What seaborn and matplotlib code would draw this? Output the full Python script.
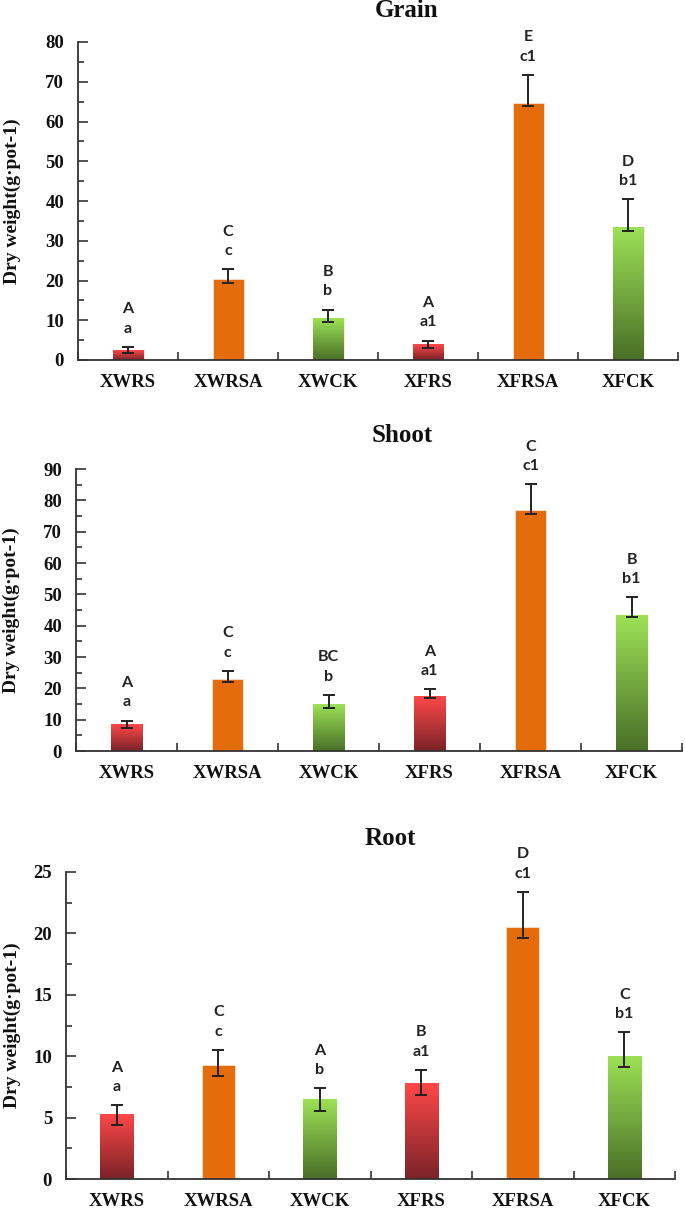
import numpy as np
import pandas as pd
import matplotlib
matplotlib.use('Agg')
from matplotlib import pyplot as plt
from matplotlib.colors import LinearSegmentedColormap
from matplotlib.ticker import MultipleLocator, FixedLocator
import seaborn as sns

treatments = ['XWRS', 'XWRSA', 'XWCK', 'XFRS', 'XFRSA', 'XFCK']
fill_kind = ['red', 'orange', 'green', 'red', 'orange', 'green']

grain_mean = [2.5, 20.5, 10.5, 4.0, 64.7, 33.4]
grain_err_lo = [0.7, 1.2, 0.9, 0.9, 0.8, 0.9]
grain_err_hi = [0.8, 2.3, 2.2, 0.9, 7.0, 7.0]
grain_upper = ['A', 'C', 'B', 'A', 'E', 'D']
grain_lower = ['a', 'c', 'b', 'a1', 'c1', 'b1']

shoot_mean = [8.6, 22.9, 14.9, 17.4, 76.9, 43.4]
shoot_err_lo = [1.4, 0.8, 1.3, 0.6, 1.3, 0.7]
shoot_err_hi = [1.1, 2.7, 3.0, 2.3, 8.2, 5.7]
shoot_upper = ['A', 'C', 'BC', 'A', 'C', 'B']
shoot_lower = ['a', 'c', 'b', 'a1', 'c1', 'b1']

root_mean = [5.3, 9.3, 6.5, 7.8, 20.5, 10.05]
root_err_lo = [0.9, 0.95, 1.0, 1.0, 0.9, 0.95]
root_err_hi = [0.7, 1.2, 0.9, 1.1, 2.9, 1.9]
root_upper = ['A', 'C', 'A', 'B', 'D', 'C']
root_lower = ['a', 'c', 'b', 'a1', 'c1', 'b1']

gradients = {'red': ('#7a2328', '#ff4848'), 'green': ('#4a6f27', '#9ce256')}
solid = {'red': '#e04040', 'orange': '#e46c0a', 'green': '#86c94a'}

sns.set_style('ticks')
plt.rcParams['font.family'] = ['Liberation Serif', 'DejaVu Serif']
plt.rcParams['font.weight'] = 'bold'

fig = plt.figure(figsize=(6.85, 12.11), dpi=100)
W, H = 685.0, 1211.0

panels = [
    # title, mean, lo, hi, upper, lower, ymax, major, (left, right, top, bottom px), bar width, title pos, ylabel x
    ('Grain', grain_mean, grain_err_lo, grain_err_hi, grain_upper, grain_lower, 80, 10,
     (78, 678, 42, 360), 0.31, (0.547, 1.10), -0.095),
    ('Shoot', shoot_mean, shoot_err_lo, shoot_err_hi, shoot_upper, shoot_lower, 90, 10,
     (76, 682, 469, 751), 0.31, (0.538, 1.12), -0.092),
    ('Root', root_mean, root_err_lo, root_err_hi, root_upper, root_lower, 25, 5,
     (66, 675, 872, 1179), 0.33, (0.532, 1.11), -0.074),
]


def paint_gradient(ax, bar, bottom_color, top_color):
    x0, y0 = bar.get_x(), bar.get_y()
    w, h = bar.get_width(), bar.get_height()
    cmap = LinearSegmentedColormap.from_list('grad', [bottom_color, top_color])
    grad = np.linspace(0, 1, 256).reshape(-1, 1)
    im = ax.imshow(grad, cmap=cmap, extent=[x0, x0 + w, y0, y0 + h], origin='lower',
                   aspect='auto', zorder=bar.get_zorder(), interpolation='bilinear')
    im.set_clip_path(bar)
    bar.set_facecolor('none')


for title, mean, lo, hi, upper, lower, ymax, major, box, bw, tpos, ylx in panels:
    left, right, top, bottom = box
    ax = fig.add_axes([left / W, 1 - bottom / H, (right - left) / W, (bottom - top) / H])
    df = pd.DataFrame({'treatment': treatments, 'value': mean, 'kind': fill_kind})
    palette = {t: solid[k] for t, k in zip(treatments, fill_kind)}
    sns.barplot(data=df, x='treatment', y='value', hue='treatment', palette=palette,
                width=bw, errorbar=None, legend=False, saturation=1, ax=ax)
    for bar in ax.patches:
        idx = int(round(bar.get_x() + bar.get_width() / 2))
        kind = fill_kind[idx]
        bar.set_edgecolor('#ffe3d0')
        bar.set_linewidth(0.6)
        if kind in gradients:
            paint_gradient(ax, bar, *gradients[kind])
    ax.errorbar(x=np.arange(len(treatments)), y=mean, yerr=[lo, hi], fmt='none',
                ecolor='#222222', elinewidth=1.4, capsize=4, capthick=1.4, zorder=5)
    for i in range(len(treatments)):
        ax.annotate(upper[i] + '\n' + lower[i], xy=(i, mean[i] + hi[i]), xytext=(0, 8),
                    textcoords='offset points', ha='center', va='bottom', linespacing=1.5,
                    fontsize=11.5, fontweight='bold', family=['Lato', 'DejaVu Sans'],
                    color='#222222')
    ax.set_xlim(-0.5, len(treatments) - 0.5)
    ax.set_ylim(0, ymax)
    ax.yaxis.set_major_locator(MultipleLocator(major))
    ax.yaxis.set_minor_locator(MultipleLocator(major / 2))
    ax.xaxis.set_minor_locator(FixedLocator(np.arange(-0.5, len(treatments), 1.0)))
    ax.tick_params(axis='y', which='major', direction='in', length=7, width=1.2,
                   color='#333333', pad=10, labelsize=13.5)
    ax.tick_params(axis='y', which='minor', direction='in', length=4.5, width=1.2,
                   color='#333333')
    ax.tick_params(axis='x', which='major', length=0, pad=10, labelsize=13.5)
    ax.tick_params(axis='x', which='minor', direction='in', length=6, width=1.2,
                   color='#333333')
    for lab in ax.get_xticklabels() + ax.get_yticklabels():
        lab.set_fontweight('bold')
        lab.set_color('#111111')
    sns.despine(ax=ax)
    for side in ('left', 'bottom'):
        ax.spines[side].set_color('#333333')
        ax.spines[side].set_linewidth(1.3)
    ax.set_xlabel('')
    ax.set_ylabel('Dry weight(g·pot-1)', fontsize=14, fontweight='bold', color='#111111')
    ax.yaxis.set_label_coords(ylx, 0.5)
    ax.text(tpos[0], tpos[1], title, transform=ax.transAxes, ha='center', va='center',
            fontsize=18, fontweight='bold', color='#111111')

fig.savefig('out.png', dpi=100)
